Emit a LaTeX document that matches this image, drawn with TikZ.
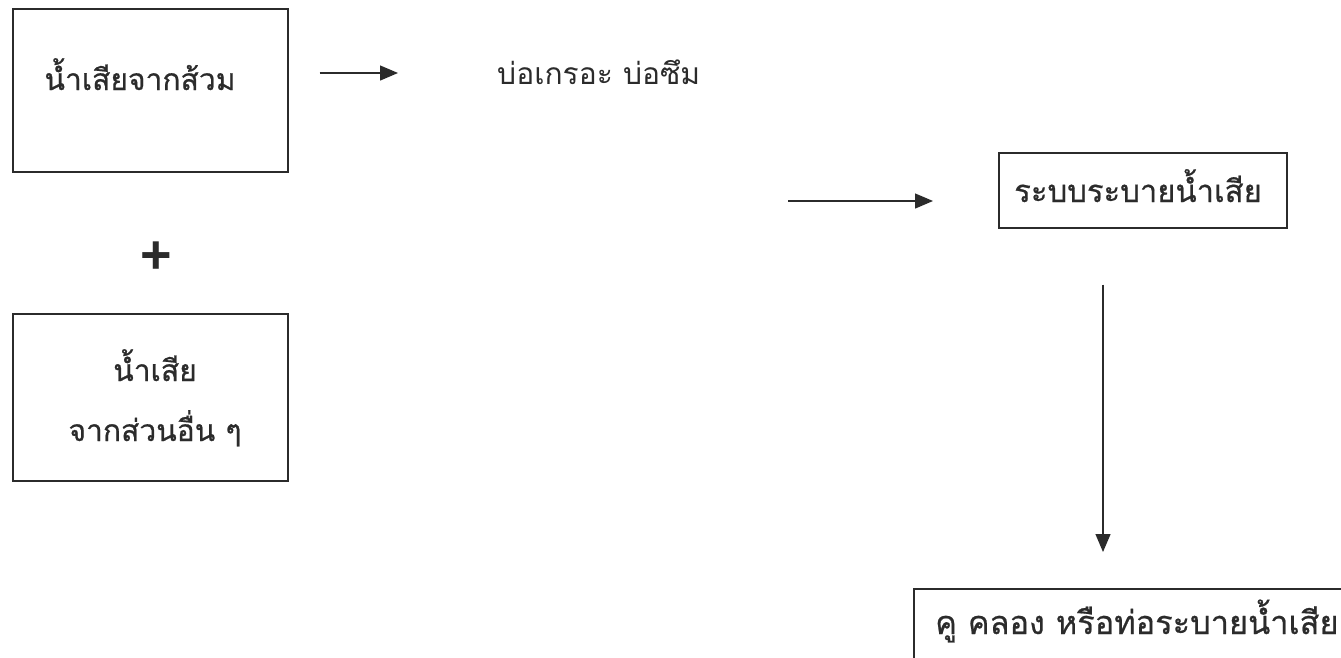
\documentclass[tikz,border=0pt]{standalone}
\usepackage{fontspec}
\setmainfont{Liberation Sans}
\newfontfamily\thaifont[Script=Thai, FakeBold=0.6]{Loma}
\newfontfamily\thailight[Script=Thai]{Loma}
\usetikzlibrary{arrows.meta}
\definecolor{ink}{HTML}{2B2B2B}
\tikzset{
  x=1pt, y=-1pt,
  frame/.style={draw=ink, line width=1.6pt, inner sep=0pt},
  thai/.style={text=ink, font=\thaifont\fontsize{30}{36}\selectfont, inner sep=0pt},
  arr/.style={draw=ink, line width=1.3pt, -{Triangle[length=18pt, width=15pt]}},
}
\begin{document}
\begin{tikzpicture}
\useasboundingbox (0,0) rectangle (1341,657);
\clip (0,0) rectangle (1341,657);

% source boxes on the left
\node[frame, anchor=north west, minimum width=275, minimum height=163] (toilet) at (12,8) {};
\node[thai, anchor=base] (toiletT) at (140,90) {น้ำเสียจากส้วม};

\node[text=ink, font=\bfseries\fontsize{54}{60}\selectfont, inner sep=0pt] (plus) at (156,258) {+};

\node[frame, anchor=north west, minimum width=275, minimum height=167] (other) at (12,313) {};
\node[thai, anchor=base] (otherA) at (155,381) {น้ำเสีย};
\node[thai, anchor=base] (otherB) at (155,441) {จากส่วนอื่น ๆ};

% septic tank / soak pit
\node[thai, anchor=base west, font=\thailight\fontsize{30}{36}\selectfont] (tank) at (497,84) {บ่อเกรอะ บ่อซึม};

% drainage system
\node[frame, anchor=north west, minimum width=288, minimum height=75] (drain) at (998,152) {};
\node[thai, anchor=base, font=\thaifont\fontsize{31}{36}\selectfont] (drainT) at (1138,202) {ระบบระบายน้ำเสีย};

% final outlet, running off the page
\node[frame, anchor=north west, minimum width=480, minimum height=120] (canal) at (913,588) {};
\node[thai, anchor=base west, font=\thaifont\fontsize{32.5}{38}\selectfont] (canalT) at (935,634) {คู คลอง หรือท่อระบายน้ำเสีย};

% connectors
\coordinate (feed) at (788,201);
\coordinate (drop) at (1103,0);
\draw[arr, shorten <=31pt, shorten >=99pt] (toilet.east |- 0,73) -- (tank.west |- 0,73);
\draw[arr, shorten >=65pt] (feed) -- (drain.west |- feed);
\draw[arr, shorten <=56pt, shorten >=36pt] (drain.south -| drop) -- (canal.north -| drop);
\end{tikzpicture}
\end{document}
